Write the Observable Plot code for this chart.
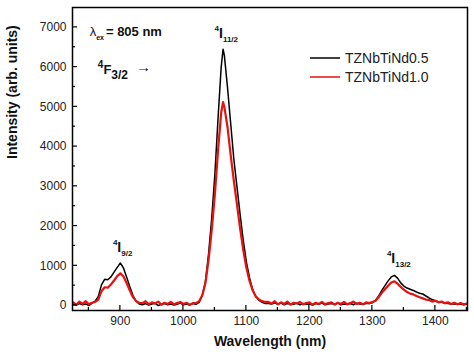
<!DOCTYPE html>
<html>
<head>
<meta charset="utf-8">
<script src="https://cdn.jsdelivr.net/npm/d3@7"></script>
<script src="https://cdn.jsdelivr.net/npm/@observablehq/plot@0.6"></script>
<style>
  html, body { margin: 0; padding: 0; background: white; }
  #chart svg { display: block; }
</style>
</head>
<body>
<div id="chart"></div>
<script>
// Wavelength (nm)
const wavelength = [
  825,830,835,840,845,850,855,860,
  865,870,875,880,885,890,895,900,905,910,915,920,925,930,
  935,940,945,950,955,960,965,970,975,980,985,990,995,1000,1005,1010,1015,
  1020,1025,1030,1035,1040,1045,1050,1055,1060,1063,1065,1070,1075,1080,1085,1090,1095,1100,1105,1110,1115,1120,1125,1130,
  1135,1140,1145,1150,1155,1160,1165,1170,1175,1180,1185,1190,1195,1200,1205,1210,1215,1220,1225,1230,1235,1240,1245,1250,1255,1260,1265,1270,1275,1280,1285,1290,
  1295,1300,1305,1310,1315,1320,1325,1330,1335,1340,1345,1350,1355,1360,1365,1370,1375,1380,1385,1390,1395,1400,1405,1410,1415,1420,1425,1430,1435,1440,1445,1450
];
// TZNbTiNd0.5 (black)
const intensity05 = [
  30,10,50,20,40,0,60,110,
  230,520,660,650,720,840,960,1070,940,710,470,250,110,40,
  20,50,10,40,60,0,30,50,20,40,10,30,60,20,40,10,50,
  30,80,250,600,1300,2200,3300,4700,6000,6450,6300,5500,4600,3700,3000,2300,1650,1100,700,400,220,130,80,50,
  50,40,70,30,60,20,50,40,30,60,20,50,30,40,10,50,30,60,20,40,50,30,60,20,40,30,50,20,60,40,30,50,
  50,70,130,240,380,500,620,720,760,690,570,490,440,410,380,340,310,290,240,190,150,120,90,80,60,50,40,40,30,30,20,30
];
// TZNbTiNd1.0 (red)
const intensity10 = [
  80,20,100,40,110,30,70,90,
  150,360,460,450,530,630,740,810,730,560,380,210,110,70,
  60,110,30,80,50,100,20,70,40,90,30,60,90,40,70,20,60,
  60,110,260,560,1150,1900,2800,3900,4850,5120,5000,4500,3800,3150,2550,1950,1400,950,620,380,230,150,110,90,
  90,50,110,30,80,40,100,20,70,50,90,30,60,80,20,70,40,90,30,60,80,20,70,40,90,30,60,100,40,70,30,80,
  60,90,120,210,320,410,500,580,610,550,470,400,340,300,280,240,210,180,150,140,100,120,80,100,60,80,40,70,30,60,30,50
];
const seriesNames = ["TZNbTiNd0.5", "TZNbTiNd1.0"];
const seriesColors = ["#000000", "#e5120f"];
const xTicks = [900, 1000, 1100, 1200, 1300, 1400];
const xMinor = [850, 950, 1050, 1150, 1250, 1350, 1450];
const yTicks = [0, 1000, 2000, 3000, 4000, 5000, 6000, 7000];
const yMinor = [500, 1500, 2500, 3500, 4500, 5500, 6500];

const d05 = wavelength.map((w, i) => ({w, v: intensity05[i]}));
const d10 = wavelength.map((w, i) => ({w, v: intensity10[i]}));

const font = "'Liberation Sans', Arial, sans-serif";

const plot = Plot.plot({
  width: 474,
  height: 355,
  marginLeft: 72,
  marginRight: 7,
  marginTop: 7,
  marginBottom: 45,
  x: {domain: [824, 1451]},
  y: {domain: [-125, 7500]},
  style: {fontFamily: font, fontSize: "12px", color: "#222", background: "white"},
  marks: [
    Plot.axisX(xTicks, {tickSize: 0, tickPadding: 6, label: null, fontSize: 12, tickFormat: d => String(d)}),
    Plot.axisY(yTicks, {tickSize: 0, tickPadding: 6, label: null, fontSize: 12, tickFormat: d => String(d)}),
    Plot.line(d05, {x: "w", y: "v", stroke: seriesColors[0], strokeWidth: 1.5}),
    Plot.line(d10, {x: "w", y: "v", stroke: seriesColors[1], strokeWidth: 2.2}),
    Plot.frame({stroke: "black", strokeWidth: 1.5}),
    Plot.text(["Wavelength (nm)"], {frameAnchor: "bottom", dy: 35, fontWeight: "bold", fontSize: 14, fill: "#111"}),
    Plot.text(["Intensity (arb. units)"], {frameAnchor: "left", dx: -60, rotate: -90, fontWeight: "bold", fontSize: 14, fill: "#111"})
  ]
});
document.getElementById("chart").appendChild(plot);

const x = plot.scale("x"), y = plot.scale("y");
const svg = d3.select(plot);
const x0 = x.apply(x.domain[0]), y0 = y.apply(y.domain[0]);
const g = svg.append("g").attr("stroke", "black").attr("stroke-width", 1.2);
xTicks.forEach(t => g.append("line").attr("x1", x.apply(t)).attr("x2", x.apply(t)).attr("y1", y0).attr("y2", y0 - 5));
xMinor.forEach(t => g.append("line").attr("x1", x.apply(t)).attr("x2", x.apply(t)).attr("y1", y0).attr("y2", y0 - 3));
yTicks.forEach(t => g.append("line").attr("y1", y.apply(t)).attr("y2", y.apply(t)).attr("x1", x0).attr("x2", x0 + 5));
yMinor.forEach(t => g.append("line").attr("y1", y.apply(t)).attr("y2", y.apply(t)).attr("x1", x0).attr("x2", x0 + 3));

// Annotations
const ann = svg.append("g").attr("font-family", font).attr("fill", "#111")
  .attr("font-weight", "bold").attr("text-anchor", "start");

function term(px, py, sub) {
  const t = ann.append("text").attr("x", px).attr("y", py).attr("text-anchor", "start");
  t.append("tspan").attr("font-size", 8).attr("dy", -7).text("4");
  t.append("tspan").attr("font-size", 14).attr("dy", 7).text("I");
  t.append("tspan").attr("font-size", 8).attr("dy", 4).text(sub);
}
term(x.apply(1063) - 8, y.apply(6450) - 11, "11/2");
term(x.apply(900) - 7, y.apply(1070) - 11, "9/2");
term(x.apply(1335) - 7, y.apply(760) - 12, "13/2");

// lambda_ex
const lt = ann.append("text").attr("x", x.apply(852)).attr("y", y.apply(6770)).attr("font-size", 13);
lt.append("tspan").attr("font-weight", "normal").text("λ");
lt.append("tspan").attr("font-size", 7).attr("dy", 4).text("ex");
lt.append("tspan").attr("dy", -4).attr("dx", 2).text("= 805 nm");

// 4F3/2 ->
const ft = ann.append("text").attr("x", x.apply(865)).attr("y", y.apply(5820)).attr("font-size", 13);
ft.append("tspan").attr("font-size", 10).attr("dy", -6).text("4");
ft.append("tspan").attr("dy", 6).text("F");
ft.append("tspan").attr("font-size", 12).attr("dy", 5).text("3/2");
ft.append("tspan").attr("font-size", 15).attr("font-weight", "normal").attr("dy", -7).attr("dx", 8).text("→");

// Legend
const lg = svg.append("g").attr("font-family", font).attr("font-size", 14)
  .attr("fill", "#222").attr("text-anchor", "start");
seriesNames.forEach((name, i) => {
  const ly = 58 + i * 19;
  lg.append("line").attr("x1", 310).attr("x2", 340).attr("y1", ly).attr("y2", ly)
    .attr("stroke", seriesColors[i]).attr("stroke-width", 1.5);
  lg.append("text").attr("x", 345).attr("y", ly).attr("dy", "0.35em").text(name);
});
</script>
</body>
</html>
